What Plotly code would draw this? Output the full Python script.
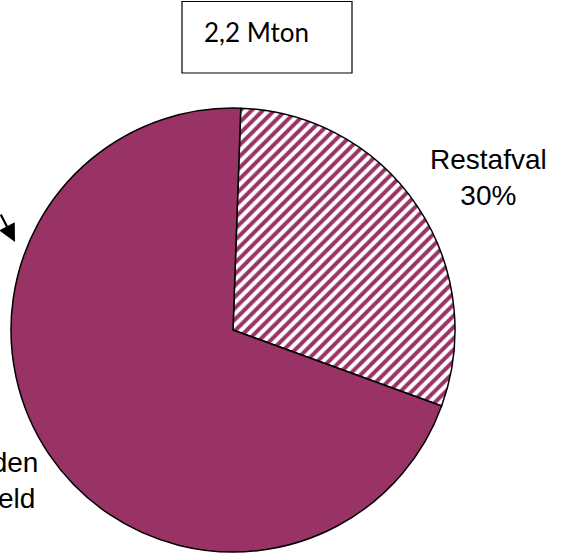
import plotly.graph_objects as go

W, H = 562, 557
labels = ["Restafval", "Gescheiden ingezameld"]
values = [30, 70]
label_texts = ["Restafval<br>30%", "Gescheiden<br>ingezameld<br>70%"]
total_text = "2,2 Mton"

purple = "#993366"

cx, cy, r = 233, 330, 222

def px(x):
    return x / W

def py(y):
    return 1 - y / H

fig = go.Figure(go.Pie(
    labels=labels,
    values=values,
    sort=False,
    direction="clockwise",
    rotation=2,
    textinfo="none",
    hoverinfo="label+percent",
    marker=dict(
        colors=["white", purple],
        line=dict(color="black", width=1.5),
        pattern=dict(shape=["/", ""], fgcolor=purple, bgcolor="white", size=8, solidity=0.5),
    ),
    domain=dict(x=[px(cx - r), px(cx + r)], y=[py(cy + r), py(cy - r)]),
    showlegend=False,
))

annotations = [
    dict(x=px(488), y=py(177), xref="paper", yref="paper", text=label_texts[0],
         showarrow=False, xanchor="center", yanchor="middle",
         font=dict(family="Liberation Sans, Arial", size=28, color="black")),
    dict(x=px(-37), y=py(499), xref="paper", yref="paper", text=label_texts[1],
         showarrow=False, xanchor="center", yanchor="middle",
         font=dict(family="Liberation Sans, Arial", size=28, color="black")),
    dict(x=px(256), y=py(32), xref="paper", yref="paper", text=total_text,
         showarrow=False, xanchor="center", yanchor="middle",
         font=dict(family="Lato, Open Sans", size=26, color="black")),
    dict(x=px(15), y=py(242), xref="paper", yref="paper", text="",
         showarrow=True, ax=-24, ay=-29, axref="pixel", ayref="pixel",
         arrowhead=2, arrowsize=1.6, arrowwidth=2.2, arrowcolor="black"),
]

fig.update_layout(
    width=W, height=H,
    margin=dict(l=0, r=0, t=0, b=0),
    paper_bgcolor="white", plot_bgcolor="white",
    annotations=annotations,
    shapes=[dict(type="rect", xref="paper", yref="paper",
                 x0=px(182), x1=px(352), y0=py(73), y1=py(1.5),
                 line=dict(color="black", width=1.2), fillcolor="rgba(0,0,0,0)")],
)

fig.write_html("out.html", config={"displayModeBar": False},
               post_script="document.body.style.margin='0';")
